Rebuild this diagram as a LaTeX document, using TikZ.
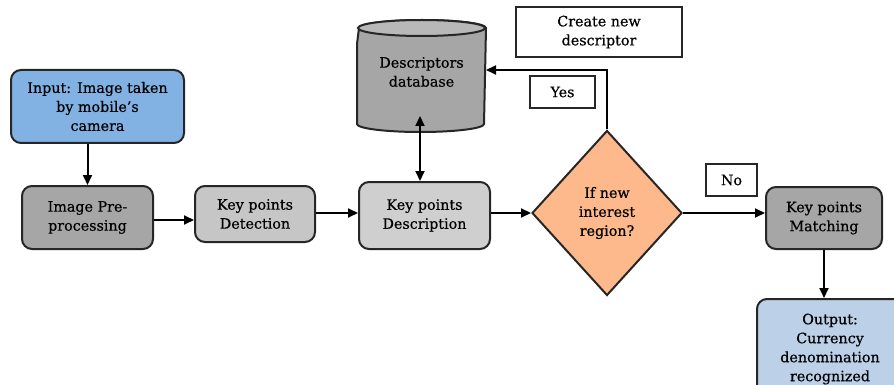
\documentclass[tikz,border=0pt]{standalone}
\usepackage{fontspec}
\setmainfont{DejaVu Serif}
\newfontfamily\lblfont{DejaVu Serif}[FakeBold=0.5,Ligatures=TeX]
\usetikzlibrary{shapes.geometric,arrows.meta}
\definecolor{inblue}{HTML}{82B2E4}
\definecolor{outblue}{HTML}{BCD0E8}
\definecolor{dgray}{HTML}{A6A6A6}
\definecolor{lgray}{HTML}{C6C6C6}
\definecolor{orng}{HTML}{FDB98C}
\begin{document}
\begin{tikzpicture}[x=1pt,y=-1pt,
  every node/.style={font=\lblfont\fontsize{14.3}{19}\selectfont, align=center, inner sep=0pt, line width=2pt},
  rbox/.style={draw=black!85, rounded corners=10pt},
  plainbox/.style={draw=black!85, fill=white, line width=1.8pt},
  conn/.style={line width=2pt, -{Triangle[length=10pt,width=9pt]}}]
\useasboundingbox (0,0) rectangle (894,385);
\node[rbox, fill=inblue, minimum width=173pt, minimum height=73pt] (in) at (97.5,106.5) {Input: Image taken\\by mobile’s\\camera};
\node[rbox, fill=dgray, minimum width=131pt, minimum height=63pt] (pre) at (87.5,217.5) {Image Pre-\\processing};
\node[rbox, fill=lgray, minimum width=120pt, minimum height=56pt] (det) at (255,214) {Key points\\Detection};
\node[rbox, fill=lgray!85, minimum width=131pt, minimum height=67pt] (desc) at (424.5,215.5) {Key points\\Description};
% database cylinder
\node[minimum width=127pt, minimum height=78pt] (db) at (421.5,76) {};
\fill[dgray, draw=black!85, line width=2pt] (db.north west) ++(0,8) -- ([yshift=-8pt]db.south west)
  arc[start angle=180, end angle=360, x radius=63.5pt, y radius=8pt]
  -- ([yshift=8pt]db.north east)
  arc[start angle=0, end angle=180, x radius=63.5pt, y radius=8pt] -- cycle;
\draw[line width=2pt, draw=black!85, fill=dgray!80] ([yshift=8pt]db.north) ellipse[x radius=63.5pt, y radius=8pt];
\node at ([yshift=4pt]db.center) {Descriptors\\database};
\node[diamond, draw=black!85, fill=orng, aspect=0.909, minimum width=150pt, minimum height=165pt] (dec) at (607,213) {If new\\interest\\region?};
\node[plainbox, minimum width=166pt, minimum height=50pt] (create) at (599,32) {Create new\\descriptor};
\node[plainbox, minimum width=65pt, minimum height=32pt] (yes) at (562.5,92) {Yes};
\node[plainbox, minimum width=51pt, minimum height=32pt] (no) at (731.5,180) {No};
\node[rbox, fill=dgray, minimum width=116pt, minimum height=62pt] (match) at (824,218) {Key points\\Matching};
\node[rbox, fill=outblue, minimum width=146pt, minimum height=100pt, anchor=north] (out) at (830,298) {Output:\\Currency\\denomination\\recognized};
\coordinate (turn) at (dec.north |- 0,70);
\coordinate (dbr) at (db.east |- 0,70);
\draw[conn] (in.south -| pre.north) -- (pre.north);
\draw[conn] (pre.east |- 0,220) -- (det.west |- 0,220);
\draw[conn] (det.east |- 0,213) -- (desc.west |- 0,213);
\draw[line width=2pt, {Triangle[length=10pt,width=9pt]}-{Triangle[length=10pt,width=9pt]}] (desc.north -| 420,0) -- (db.south -| 420,0);
\draw[conn] (desc.east |- dec.west) -- (dec.west);
\draw[conn] (dec.north) -- (turn) -- (dbr);
\draw[conn] (dec.east) -- (match.west |- dec.east);
\draw[conn] (match.south) -- (out.north -| match.south);
\end{tikzpicture}
\end{document}
